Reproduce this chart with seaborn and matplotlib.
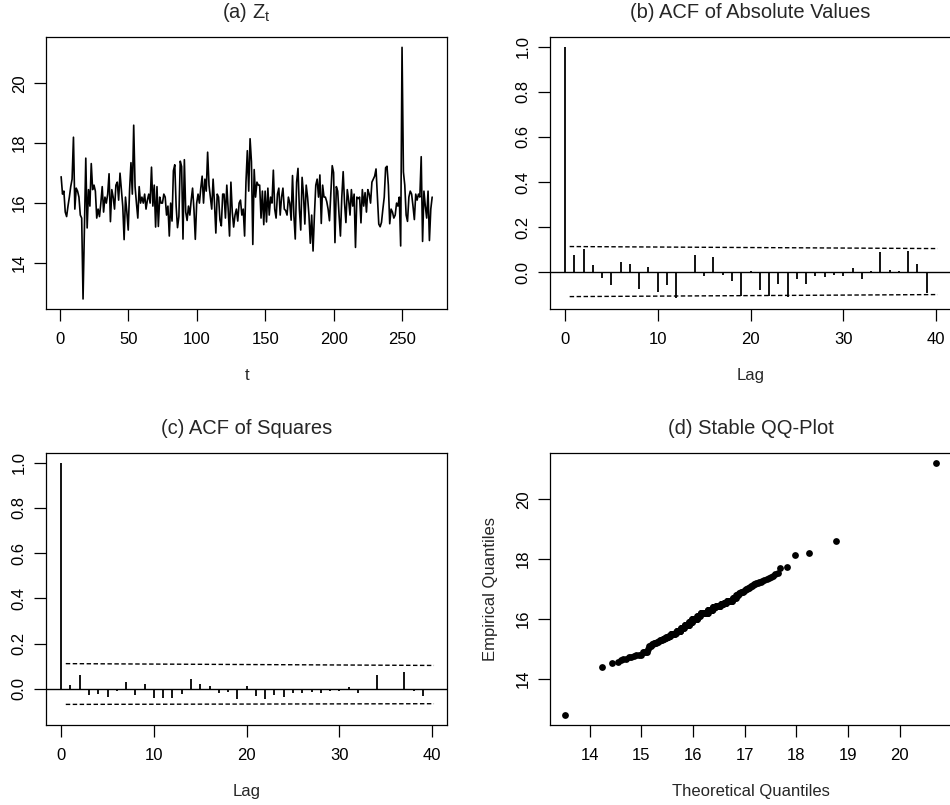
import numpy as np
import pandas as pd
import matplotlib
matplotlib.use("Agg")
import matplotlib.pyplot as plt
import seaborn as sns

# series Z_t
z_values = [
    16.88, 16.3, 16.4, 15.7, 15.55, 15.9, 16.2, 16.55, 16.8, 18.2,
    15.8, 16.5, 16.4, 16.2, 15.6, 15.5, 12.8, 15.1, 17.5, 15.17,
    16.45, 15.9, 17.32, 16.45, 16.6, 16.4, 15.5, 15.8, 15.55, 16.0,
    16.55, 15.7, 16.2, 16.0, 16.3, 16.98, 15.38, 16.45, 16.2, 15.8,
    16.6, 16.7, 16.1, 17.0, 16.45, 15.9, 14.78, 16.2, 15.7, 15.1,
    16.45, 17.35, 16.3, 18.6, 16.55, 16.0, 15.5, 16.55, 16.0, 16.2,
    16.0, 16.3, 15.8, 16.1, 16.3, 16.0, 17.2, 15.9, 16.6, 15.2,
    16.55, 15.22, 16.2, 16.0, 16.0, 16.3, 16.2, 15.6, 15.9, 14.9,
    16.0, 15.4, 17.08, 17.28, 15.9, 15.18, 15.55, 17.4, 17.22, 14.8,
    17.45, 15.7, 15.42, 15.9, 15.6, 16.1, 16.5, 15.8, 14.79, 16.0,
    16.3, 16.0, 16.5, 16.9, 16.0, 16.8, 16.4, 17.7, 16.6, 16.2,
    15.8, 16.8, 16.0, 15.0, 16.3, 16.2, 15.44, 15.24, 16.3, 16.3,
    15.5, 16.6, 15.8, 14.9, 16.7, 15.7, 15.2, 15.6, 15.8, 15.4,
    16.0, 16.1, 15.6, 15.8, 14.9, 16.7, 17.75, 16.4, 18.15, 17.38,
    14.62, 17.12, 16.2, 16.7, 16.6, 16.6, 15.5, 16.4, 15.28, 16.4,
    15.37, 16.5, 15.6, 16.2, 16.0, 17.1, 15.8, 15.5, 16.3, 16.5,
    15.6, 16.2, 16.5, 15.8, 15.75, 15.6, 16.2, 16.0, 15.43, 16.92,
    15.6, 14.8, 16.7, 17.16, 15.8, 15.1, 16.86, 16.3, 15.3, 16.6,
    16.2, 15.6, 14.66, 15.6, 14.4, 15.6, 16.6, 16.8, 16.2, 16.94,
    15.32, 16.6, 16.2, 16.2, 16.05, 15.8, 15.41, 16.3, 17.25, 17.02,
    14.68, 16.55, 16.4, 15.6, 14.9, 16.2, 17.05, 16.0, 15.35, 16.45,
    16.1, 15.6, 16.45, 15.9, 16.3, 14.52, 16.2, 16.15, 16.2, 15.34,
    16.45, 15.9, 16.35, 15.7, 16.45, 16.3, 16.0, 16.7, 16.8, 16.9,
    17.14, 16.2, 15.3, 15.21, 15.36, 15.8, 16.2, 17.18, 17.23, 16.6,
    15.31, 15.8, 15.7, 15.5, 15.6, 16.0, 15.9, 16.2, 14.57, 21.2,
    17.04, 16.6, 15.6, 15.39, 16.2, 16.4, 16.3, 15.9, 15.45, 16.3,
    16.1, 16.3, 16.2, 17.55, 14.72, 16.4, 15.9, 15.5, 16.4, 14.75, 15.8, 16.2,
]

# ACF of |Z_t| and of Z_t^2, lags 0..40
lags = list(range(41))
acf_abs = [1.0, 0.077, 0.103, 0.032, -0.027, -0.056, 0.047, 0.035, -0.074, 0.024,
           -0.089, -0.056, -0.112, -0.005, 0.075, -0.016, 0.069, -0.012, -0.041, -0.105,
           0.005, -0.080, -0.106, -0.052, -0.109, -0.032, -0.050, -0.015, -0.021, -0.010,
           -0.015, 0.018, -0.030, 0.006, 0.089, 0.012, 0.007, 0.093, 0.037, -0.092, 0.003]
acf_sq = [1.0, 0.018, 0.063, -0.026, -0.022, -0.034, -0.008, 0.030, -0.026, 0.020,
          -0.041, -0.041, -0.040, -0.024, 0.043, 0.020, 0.013, -0.019, -0.013, -0.043,
          0.015, -0.029, -0.045, -0.027, -0.034, -0.018, -0.017, -0.014, -0.019, -0.007,
          -0.007, 0.007, -0.016, -0.004, 0.062, -0.006, -0.004, 0.075, -0.007, -0.033, -0.004]

# confidence bounds (dashed), given at their two ends
band_lags = [0.5, 40.2]
abs_upper = [0.114, 0.105]
abs_lower = [-0.108, -0.099]
sq_upper = [0.112, 0.104]
sq_lower = [-0.068, -0.065]

# theoretical stable quantiles
qq_theoretical = [
    13.52, 14.23, 14.42, 14.55,
    14.60, 14.65, 14.70, 14.75, 14.80,
    14.85, 14.90, 14.95, 14.99,
    15.02, 15.05, 15.08, 15.10,
    15.12,
    15.14, 15.16, 15.18,
    15.20, 15.22, 15.24, 15.26, 15.28, 15.30, 15.32,
    15.33, 15.35, 15.37, 15.39, 15.41, 15.42, 15.44,
    15.45,
    15.46, 15.47, 15.48, 15.50, 15.51, 15.52, 15.53, 15.54, 15.55, 15.56,
    15.57, 15.58, 15.59, 15.60, 15.61, 15.62, 15.63, 15.64,
    15.65, 15.66, 15.67,
    15.680, 15.685, 15.690, 15.695, 15.700, 15.705, 15.710, 15.715,
    15.720, 15.725, 15.730, 15.735, 15.740, 15.745, 15.750, 15.755,
    15.76, 15.77, 15.78, 15.79, 15.80, 15.81, 15.82,
    15.83,
    15.840, 15.845, 15.850, 15.855, 15.860, 15.865, 15.870, 15.875,
    15.880, 15.885, 15.890, 15.895, 15.900, 15.905, 15.910, 15.915,
    15.920, 15.925, 15.930, 15.935, 15.940, 15.945, 15.950, 15.955,
    15.960, 15.965, 15.970, 15.975,
    15.980, 15.985, 15.990, 15.995, 16.000, 16.005, 16.010, 16.015, 16.020, 16.025,
    16.030, 16.035, 16.040, 16.045, 16.050, 16.055, 16.060, 16.065, 16.070,
    16.075,
    16.08, 16.09, 16.10, 16.11, 16.12, 16.13,
    16.14,
    16.150, 16.155, 16.160, 16.165, 16.170, 16.175, 16.180, 16.185, 16.190, 16.195,
    16.200, 16.205, 16.210, 16.215, 16.220, 16.225, 16.230, 16.235, 16.240, 16.245,
    16.250, 16.255, 16.260, 16.265, 16.270, 16.275, 16.280,
    16.285, 16.290, 16.295, 16.300, 16.305, 16.310, 16.315, 16.320, 16.325, 16.330,
    16.335, 16.340, 16.345, 16.350, 16.355, 16.360, 16.365, 16.370,
    16.375,
    16.380, 16.385, 16.390, 16.395, 16.400, 16.405, 16.410, 16.415, 16.420, 16.425, 16.430,
    16.44, 16.45, 16.46, 16.47, 16.48, 16.49, 16.50, 16.51, 16.52,
    16.53, 16.54, 16.55, 16.56, 16.57, 16.58,
    16.59, 16.60, 16.61, 16.62, 16.63, 16.64,
    16.65, 16.66, 16.67, 16.68, 16.69, 16.70, 16.71, 16.72, 16.73, 16.74, 16.75, 16.76,
    16.77, 16.78, 16.79, 16.80, 16.81, 16.82,
    16.83, 16.84, 16.85, 16.86, 16.87,
    16.88, 16.90, 16.92, 16.94, 16.96, 16.98,
    17.00, 17.02, 17.04, 17.06,
    17.08,
    17.10, 17.12, 17.14, 17.16, 17.18, 17.20,
    17.22, 17.25, 17.28, 17.31,
    17.34, 17.38, 17.42, 17.46, 17.50, 17.54,
    17.59, 17.64,
    17.69, 17.82, 17.98, 18.24, 18.77, 20.70,
]
assert len(qq_theoretical) == len(z_values), (len(qq_theoretical), len(z_values))

sns.set_theme(style="ticks")
plt.rcParams["font.family"] = ["Liberation Sans", "DejaVu Sans"]
plt.rcParams["mathtext.default"] = "regular"

W, H = 950, 805
fig = plt.figure(figsize=(W / 100, H / 100), dpi=100)


def panel(left, top, right, bottom):
    return fig.add_axes([left / W, 1 - bottom / H, (right - left) / W, (bottom - top) / H])


def style(ax, xticks, yticks, ylabels=None):
    ax.set_xticks(xticks)
    if ylabels is None:
        ax.set_yticks(yticks)
    else:
        ax.set_yticks(yticks, labels=ylabels)
    ax.tick_params(axis="both", direction="out", length=8.5, width=0.9,
                   color="black", labelcolor="black", labelsize=12)
    ax.tick_params(axis="x", pad=8.0)
    ax.tick_params(axis="y", pad=5.5, labelrotation=90)
    for lab in ax.get_yticklabels():
        lab.set_va("center")
    for sp in ax.spines.values():
        sp.set_visible(True)
        sp.set_color("black")
        sp.set_linewidth(0.9)
    ax.grid(False)


def title(ax, text):
    h = ax.get_position().height * H
    ax.text(0.5, 1 + 19 / h, text, transform=ax.transAxes, ha="center",
            va="baseline", fontsize=14.5)


def xlabel(ax, text):
    h = ax.get_position().height * H
    ax.set_xlabel(text, fontsize=12)
    ax.xaxis.set_label_coords(0.5, -71 / h)
    ax.xaxis.label.set_va("baseline")


ax_a = panel(46.3, 37.3, 447, 309)
ax_b = panel(550.2, 37.3, 950.8, 309)
ax_c = panel(46.3, 453.3, 447, 725)
ax_d = panel(550.2, 453.3, 950.8, 725)

# (a) time series
df = pd.DataFrame({"t": np.arange(1, len(z_values) + 1), "z": z_values})
sns.lineplot(data=df, x="t", y="z", ax=ax_a, color="black", linewidth=1.2)
ax_a.set_xlim(-9.84, 282.84)
ax_a.set_ylim(12.464, 21.536)
style(ax_a, [0, 50, 100, 150, 200, 250], [14, 16, 18, 20])
ax_a.set_ylabel("")
xlabel(ax_a, "t")
title(ax_a, "(a) $Z_t$")

# (b), (c) ACF panels
acf_ticks = [0, 0.2, 0.4, 0.6, 0.8, 1.0]
acf_labels = ["0.0", "0.2", "0.4", "0.6", "0.8", "1.0"]
for ax, vals, up, lo, ttl, ylim in [
    (ax_b, acf_abs, abs_upper, abs_lower, "(b) ACF of Absolute Values", (-0.163, 1.042)),
    (ax_c, acf_sq, sq_upper, sq_lower, "(c) ACF of Squares", (-0.159, 1.041)),
]:
    ax.vlines(lags, 0, vals, color="black", linewidth=1.3)
    ax.axhline(0, color="black", linewidth=1.0)
    ax.plot(band_lags, up, color="black", linewidth=1.0, dashes=(3.2, 1.8))
    ax.plot(band_lags, lo, color="black", linewidth=1.0, dashes=(3.2, 1.8))
    ax.set_xlim(-1.6, 41.6)
    ax.set_ylim(*ylim)
    style(ax, [0, 10, 20, 30, 40], acf_ticks, acf_labels)
    xlabel(ax, "Lag")
    title(ax, ttl)

# (d) QQ plot
qq = pd.DataFrame({"theoretical": qq_theoretical, "empirical": np.sort(z_values)})
sns.scatterplot(data=qq, x="theoretical", y="empirical", ax=ax_d, color="black",
                s=24, linewidth=0, legend=False)
ax_d.set_xlim(13.233, 20.987)
ax_d.set_ylim(12.464, 21.536)
style(ax_d, [14, 15, 16, 17, 18, 19, 20], [14, 16, 18, 20])
xlabel(ax_d, "Theoretical Quantiles")
ax_d.set_ylabel("Empirical Quantiles", fontsize=12)
ax_d.yaxis.set_label_coords(-60 / 400.6, 0.5)
ax_d.yaxis.label.set_va("center")
title(ax_d, "(d) Stable QQ-Plot")

fig.savefig("out.png", dpi=100)
